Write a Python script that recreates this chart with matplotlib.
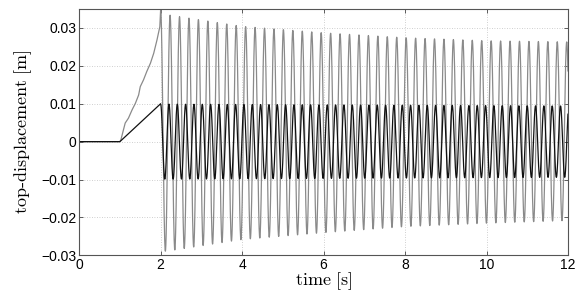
import numpy as np
import matplotlib
matplotlib.use("Agg")
import matplotlib.pyplot as plt

plt.rcParams['mathtext.fontset'] = 'cm'
plt.rcParams['font.family'] = ['Liberation Sans', 'DejaVu Sans']

# black response: rest, ramp to 0.01, then steady oscillation
black_ramp_t = [0.0, 1.0, 2.0]
black_ramp_y = [0.0, 0.0, 0.01]
black_period = 0.2045
black_env_t = [2.0, 12.0]
black_env_amp = [0.0099, 0.0094]

# grey response: ramp with wiggles, then slowly decaying oscillation
grey_ramp_t = [0.0, 1.0, 1.025, 1.13, 1.21, 1.30, 1.38, 1.46, 1.50, 1.58,
               1.66, 1.75, 1.83, 1.91, 1.98, 2.0]
grey_ramp_y = [0.0, 0.0, 0.0005, 0.0049, 0.0062, 0.0084, 0.0101, 0.0123,
               0.0145, 0.0163, 0.0185, 0.0207, 0.0233, 0.0268, 0.0303, 0.0348]
grey_period = 0.2318
grey_env_t = [2.0, 2.2, 4.0, 6.0, 8.0, 10.0, 12.0]
grey_upper = [0.0348, 0.0334, 0.0304, 0.0287, 0.0274, 0.0266, 0.0263]
grey_lower = [-0.0290, -0.0288, -0.0258, -0.0240, -0.0224, -0.0215, -0.0208]

x_ticks = [0, 2, 4, 6, 8, 10, 12]
y_ticks = [-0.03, -0.02, -0.01, 0, 0.01, 0.02, 0.03]


def black_curve():
    t2 = np.arange(2.0, 12.0, 0.002)
    amp = np.interp(t2, black_env_t, black_env_amp)
    y2 = amp * np.cos(2 * np.pi * (t2 - 2.0) / black_period)
    return np.r_[black_ramp_t, t2], np.r_[black_ramp_y, y2]


def grey_curve():
    t2 = np.arange(2.0, 12.0, 0.002)
    up = np.interp(t2, grey_env_t, grey_upper)
    lo = np.interp(t2, grey_env_t, grey_lower)
    y2 = (up + lo) / 2 + (up - lo) / 2 * np.cos(2 * np.pi * (t2 - 2.0) / grey_period)
    return np.r_[grey_ramp_t, t2], np.r_[grey_ramp_y, y2]


fig = plt.figure(figsize=(5.82, 2.98), dpi=100)
ax = fig.add_axes([0.136, 0.143, 0.840, 0.827])

tg, yg = grey_curve()
tb, yb = black_curve()
ax.plot(tg, yg, color='#8a8a8a', lw=0.9)
ax.plot(tb, yb, color='#111111', lw=0.9)

ax.set_xlim(0, 12)
ax.set_ylim(-0.03, 0.035)
ax.set_xticks(x_ticks)
ax.set_yticks(y_ticks)
ax.set_yticklabels([f"{v:g}".replace('-', '\u2212') for v in y_ticks])
ax.grid(True, linestyle=(0, (1, 2)), color='#c0c0c0', lw=0.6)
ax.tick_params(direction='in', top=True, right=True, labelsize=10,
               length=3, width=0.6, color='#444444', pad=2)
for s in ax.spines.values():
    s.set_color('#555555')
    s.set_linewidth(0.8)

ax.set_xlabel(r'$\mathrm{time\ [s]}$', fontsize=13, labelpad=-1)
ax.set_ylabel(r'$\mathrm{top\text{-}displacement\ [m]}$', fontsize=13, labelpad=5)

fig.savefig('out.png', dpi=100)
